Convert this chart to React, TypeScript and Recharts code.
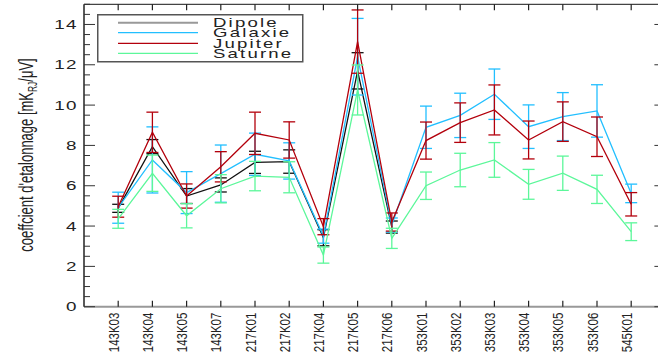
import React from "react";
import {
  ComposedChart,
  Line,
  ErrorBar,
  XAxis,
  YAxis,
  Legend,
} from "recharts";

// detector names along the bottom axis
const categories = [
  "143K03", "143K04", "143K05", "143K07", "217K01", "217K02", "217K04", "217K05",
  "217K06", "353K01", "353K02", "353K03", "353K04", "353K05", "353K06", "545K01",
];

const dipole = [4.88, 7.94, 5.49, 6.04, 7.16, 7.2, 3.42, 11.7, 3.95, null, null, null, null, null, null, null];
const dipoleErr = [0.2, 0.35, 0.37, 0.35, 0.55, 0.58, 0.4, 0.9, 0.3, null, null, null, null, null, null, null];

const galaxie = [4.91, 7.28, 5.66, 6.6, 7.56, 7.23, 3.5, 12.4, 4.05, 8.9, 9.49, 10.54, 8.93, 9.43, 9.71, 5.62];
const galaxieErr = [0.77, 1.64, 1.04, 1.42, 1.05, 0.9, 0.35, 1.9, 0.35, 1.05, 1.1, 1.25, 1.08, 1.19, 1.3, 0.46];

const jupiter = [4.96, 8.65, 5.49, 6.94, 8.6, 8.27, 3.97, 13.15, 4.2, 8.24, 9.13, 9.76, 8.27, 9.18, 8.43, 5.08];
const jupiterErr = [0.52, 1.0, 0.6, 0.75, 1.05, 0.9, 0.4, 1.57, 0.45, 0.92, 0.98, 1.24, 0.94, 0.98, 0.98, 0.58];

const saturne = [4.36, 6.62, 4.51, 5.85, 6.48, 6.42, 2.56, 10.75, 3.39, 6.0, 6.78, 7.28, 6.07, 6.62, 5.82, 3.72];
const saturneErr = [0.47, 0.9, 0.6, 0.7, 0.73, 0.77, 0.4, 1.24, 0.5, 0.68, 0.83, 0.86, 0.74, 0.85, 0.7, 0.44];

const yTicks = Array.from({ length: 31 }, (_, i) => i * 0.5);
const xTicks = categories.map((_, i) => i);

const series = [
  { key: "dipole", name: "Dipole", color: "#111111", legendColor: "#999999" },
  { key: "galaxie", name: "Galaxie", color: "#22bfff", legendColor: "#22bfff" },
  { key: "jupiter", name: "Jupiter", color: "#b3000c", legendColor: "#b3000c" },
  { key: "saturne", name: "Saturne", color: "#5cf79a", legendColor: "#5cf79a" },
];

const data = categories.map((c, i) => ({
  x: i,
  name: c,
  dipole: dipole[i],
  dipoleErr: dipoleErr[i],
  galaxie: galaxie[i],
  galaxieErr: galaxieErr[i],
  jupiter: jupiter[i],
  jupiterErr: jupiterErr[i],
  saturne: saturne[i],
  saturneErr: saturneErr[i],
}));

const wideFont = "'Liberation Sans', Arial, sans-serif";

const LeftTick = (props: any) => {
  const { x, y, payload } = props;
  const v = payload.value;
  const major = v % 2 === 0;
  return (
    <g>
      <line x1={x} y1={y} x2={x + (major ? 11 : 6)} y2={y} stroke="#333" strokeWidth={1} />
      {major && (
        <text
          transform={`translate(${x - 6}, ${y + 4.6}) scale(1.45, 1)`}
          textAnchor="end"
          fontFamily={wideFont}
          fontSize={13}
          letterSpacing={1}
          fill="#222"
        >
          {v}
        </text>
      )}
    </g>
  );
};

const RightTick = (props: any) => {
  const { x, y, payload } = props;
  const major = payload.value % 2 === 0;
  return <line x1={x} y1={y} x2={x - (major ? 11 : 6)} y2={y} stroke="#333" strokeWidth={1} />;
};

const BottomTick = (props: any) => {
  const { x, y, payload } = props;
  return (
    <g>
      <line x1={x} y1={y} x2={x} y2={y - 6} stroke="#222" strokeWidth={1.2} />
      <text
        transform={`translate(${x + 0.5}, ${y + 6}) rotate(-90) scale(0.74, 1)`}
        textAnchor="end"
        fontFamily={wideFont}
        fontSize={15.5}
        fill="#222"
      >
        {categories[payload.value]}
      </text>
    </g>
  );
};

const TopTick = (props: any) => {
  const { x, y } = props;
  return <line x1={x} y1={y} x2={x} y2={y + 6} stroke="#222" strokeWidth={1.2} />;
};

const renderLegend = () => (
  <svg width={210} height={52}>
    <rect x={0.75} y={0.75} width={205} height={47} fill="#fff" stroke="#555" strokeWidth={1.5} />
    {series.map((s, i) => {
      const ly = [8.7, 18.7, 29.3, 39.3][i];
      return (
        <g key={s.key}>
          <line x1={21} y1={ly} x2={101} y2={ly} stroke={s.legendColor} strokeWidth={s.key === "dipole" ? 2 : 1.2} />
          <text
            transform={`translate(116, ${ly + 4.2}) scale(1.55, 1)`}
            fontFamily={wideFont}
            fontSize={12}
            letterSpacing={1.4}
            fill="#222"
          >
            {s.name}
          </text>
        </g>
      );
    })}
  </svg>
);

export default function App() {
  return (
    <div
      style={{
        position: "fixed",
        left: 0,
        top: 0,
        width: 658,
        height: 352,
        overflow: "hidden",
        background: "#fff",
      }}
    >
      <ComposedChart
        width={700}
        height={352}
        data={data}
        margin={{ top: 0, right: 0, bottom: 5.3, left: 0 }}
      >
        <XAxis
          xAxisId="b"
          dataKey="x"
          type="number"
          domain={[-1, 16]}
          ticks={xTicks}
          interval={0}
          height={40}
          tickSize={0}
          tickMargin={0}
          tick={<BottomTick />}
          axisLine={{ stroke: "#999", strokeWidth: 2 }}
          tickLine={false}
        />
        <XAxis
          xAxisId="t"
          orientation="top"
          dataKey="x"
          type="number"
          domain={[-1, 16]}
          ticks={xTicks}
          interval={0}
          height={4.3}
          tickSize={0}
          tickMargin={0}
          tick={<TopTick />}
          axisLine={{ stroke: "#444", strokeWidth: 1.2 }}
          tickLine={false}
        />
        <YAxis
          yAxisId="l"
          type="number"
          domain={[0, 15]}
          ticks={yTicks}
          interval={0}
          allowDataOverflow
          width={84}
          tickSize={0}
          tickMargin={0}
          tick={<LeftTick />}
          axisLine={{ stroke: "#222", strokeWidth: 1.5 }}
          tickLine={false}
          label={{
            content: () => (
              <text
                transform="translate(33, 155) rotate(-90) scale(0.65, 1)"
                textAnchor="middle"
                fontFamily={wideFont}
                fontSize={20}
                fill="#222"
              >
                coeffcient d'etalonnage [mK
                <tspan fontSize={13} dy={4}>RJ</tspan>
                <tspan dy={-4}>/μV]</tspan>
              </text>
            ),
          }}
        />
        <YAxis
          yAxisId="r"
          orientation="right"
          type="number"
          domain={[0, 15]}
          ticks={yTicks}
          interval={0}
          allowDataOverflow
          width={34.6}
          tickSize={0}
          tickMargin={0}
          tick={<RightTick />}
          axisLine={{ stroke: "#222", strokeWidth: 1.5 }}
          tickLine={false}
        />
        <Legend
          layout="horizontal"
          verticalAlign="middle"
          align="center"
          content={renderLegend}
          wrapperStyle={{ position: "absolute", left: 97, top: 14, width: 210, height: 52 }}
        />
        {series.map((s) => (
          <Line
            key={s.key}
            xAxisId="b"
            yAxisId="l"
            dataKey={s.key}
            name={s.name}
            type="linear"
            stroke={s.color}
            strokeWidth={1.3}
            dot={false}
            activeDot={false}
            connectNulls={false}
            isAnimationActive={false}
          >
            <ErrorBar
              dataKey={`${s.key}Err`}
              direction="y"
              width={6}
              stroke={s.color}
              strokeWidth={1.3}
              isAnimationActive={false}
            />
          </Line>
        ))}
      </ComposedChart>
    </div>
  );
}
